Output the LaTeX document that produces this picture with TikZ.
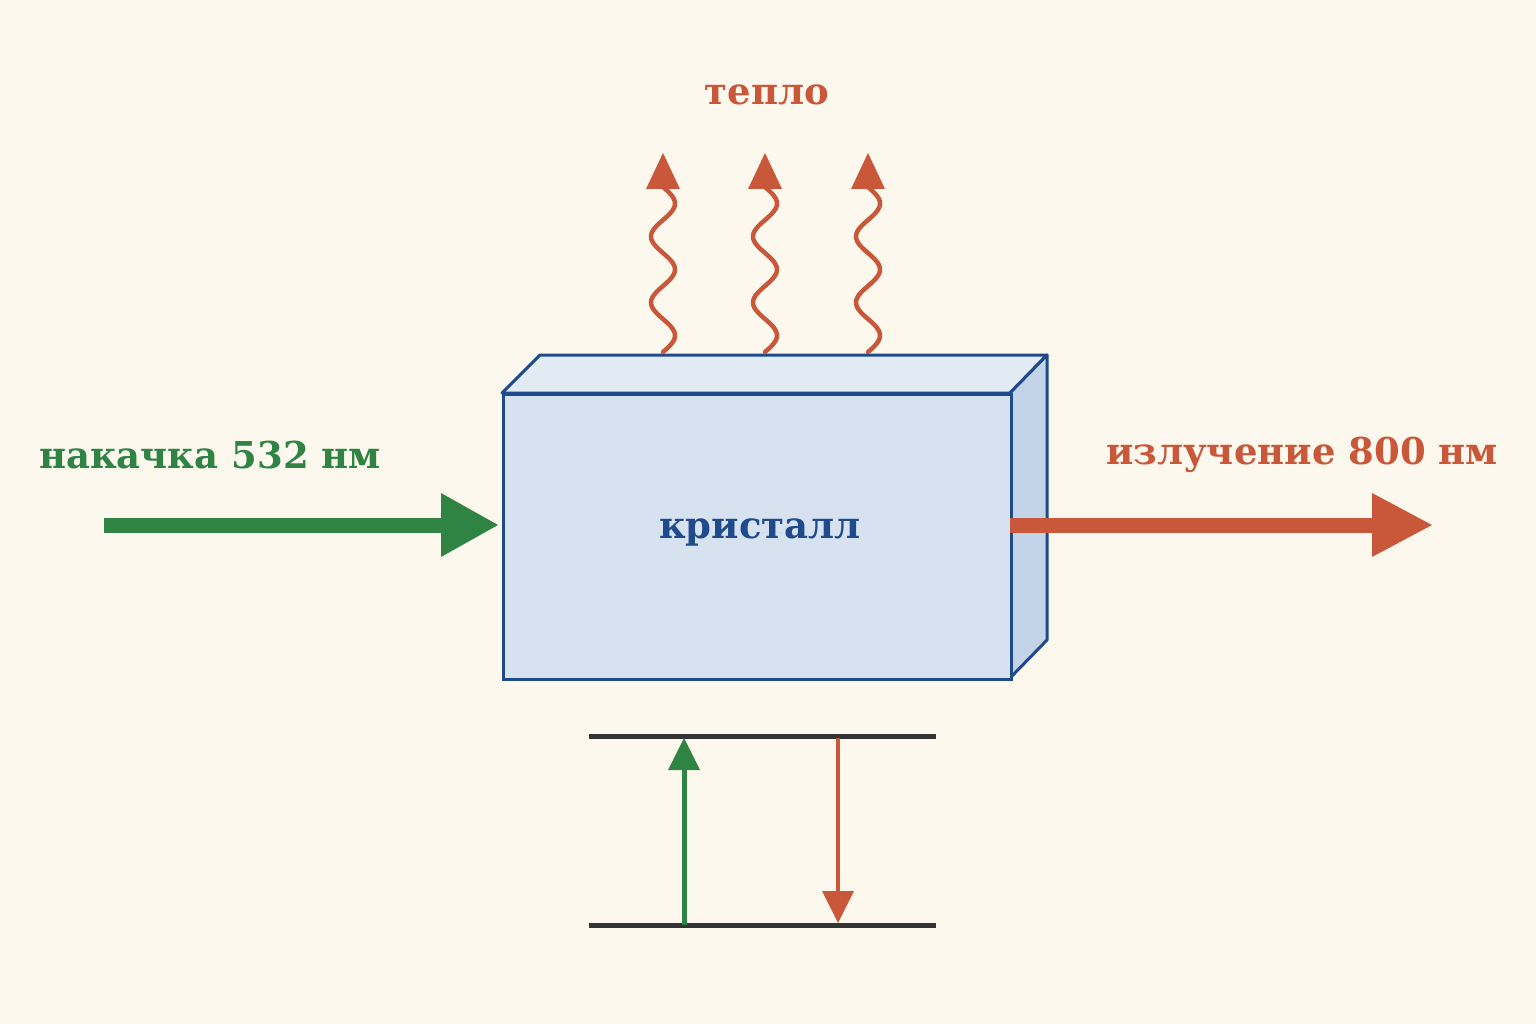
\documentclass[tikz,border=0pt]{standalone}
\usepackage{fontspec}
\setmainfont{DejaVu Serif}
\definecolor{bg}{HTML}{FDF8EE}
\definecolor{gr}{HTML}{2F8444}
\definecolor{rd}{HTML}{C9573A}
\definecolor{bl}{HTML}{1F4A8C}
\definecolor{ftop}{HTML}{E2EAF3}
\definecolor{fside}{HTML}{C4D4E8}
\definecolor{ffront}{HTML}{D6E2EF}
\begin{document}
\begin{tikzpicture}[x=1pt,y=-1pt,
  txt/.style={font=\fontsize{37}{44}\selectfont\bfseries},
  lvl/.style={line width=5pt,draw=black!80}]
\fill[bg] (0,0) rectangle (1536,1024);
\useasboundingbox (0,0) rectangle (1536,1024);
% box
\filldraw[fill=ftop,draw=bl,line width=3pt,line join=round] (502,393)--(540,355)--(1047,355)--(1010,393)--cycle;
\filldraw[fill=fside,draw=bl,line width=3pt,line join=round] (1010,393)--(1047,355)--(1047,640)--(1010,678)--cycle;
\node[draw=bl,line width=3pt,fill=ffront,minimum width=508pt,minimum height=285pt,anchor=north west,inner sep=0] (box) at (502,393) {};
\node[txt,text=bl] (k) at (760,532) {кристалл};
% heat
\foreach \xx/\n in {663/a,765/b,868/c}{
  \draw[line width=4.5pt,draw=rd,line cap=round] plot[domain=0:165,samples=90,smooth] ({\xx+12*sin(\x/66*360)},{352-\x});
  \coordinate (h\n) at (\xx,153);
  \fill[rd] (h\n) -- ++(-17,36) -- ++(34,0) -- cycle;
}
\node[txt,text=rd] (t) at (767,95) {тепло};
% pump
\coordinate (p0) at (104,525);
\draw[gr,line width=15pt] (p0) -- (445,525);
\fill[gr] (498,525) -- (441,493) -- (441,557) -- cycle;
\node[txt,text=gr] (pt) at (210,455) {накачка 532 нм};
% output
\coordinate (o0) at (1010,525);
\draw[rd,line width=15pt] (o0) -- (1378,525);
\fill[rd] (1432,525) -- (1372,493) -- (1372,557) -- cycle;
\node[txt,text=rd] (ot) at (1302,455) {излучение 800 нм};
% levels
\coordinate (u1) at (589,736); \coordinate (u2) at (936,736);
\coordinate (l1) at (589,925); \coordinate (l2) at (936,925);
\draw[lvl] (u1)--(u2);
\draw[lvl] (l1)--(l2);
\draw[gr,line width=5pt] (684,925) -- (684,760);
\fill[gr] (684,738) -- (668,770) -- (700,770) -- cycle;
\draw[rd,line width=4pt] (838,738) -- (838,900);
\fill[rd] (838,923) -- (822,891) -- (854,891) -- cycle;
\end{tikzpicture}
\end{document}
